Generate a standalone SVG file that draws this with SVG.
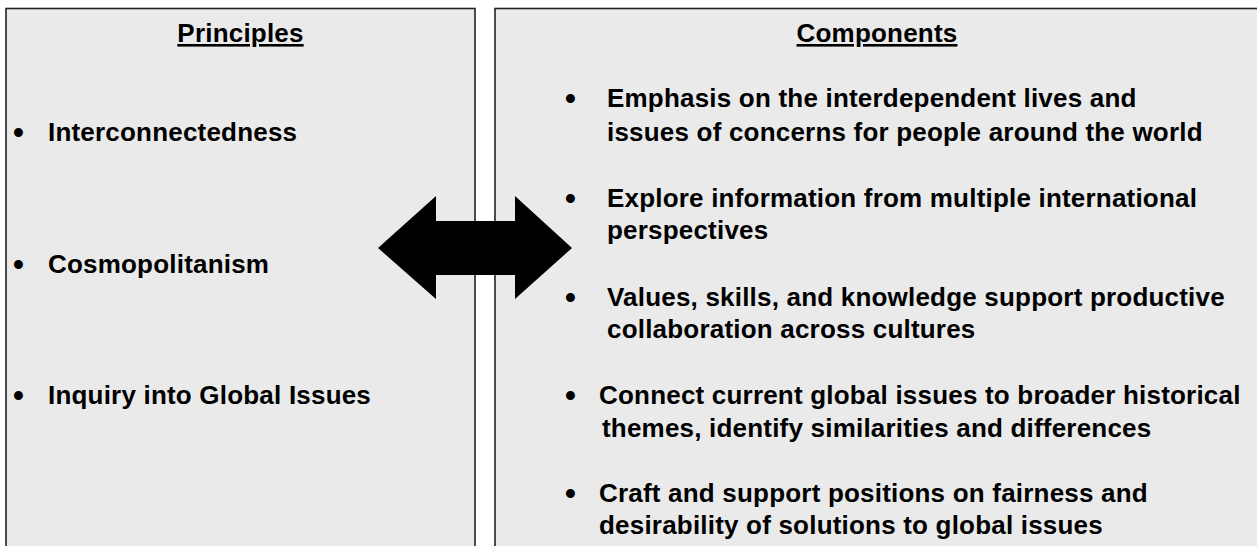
<svg xmlns="http://www.w3.org/2000/svg" width="1257" height="546" viewBox="0 0 1257 546">
<style>
.box{fill:#EAEAEA;stroke:#222;stroke-width:1.6}
.t{font-family:"Liberation Sans",Arial,sans-serif;font-weight:bold;font-size:26px;fill:#000;letter-spacing:0.2px}
.b{font-family:"Liberation Sans",Arial,sans-serif;font-weight:bold;font-size:31px;fill:#000}
.h{text-decoration:underline}
.m{text-anchor:middle}
</style>
<rect width="1257" height="546" fill="#fff"/>
<g id="principles">
<rect class="box" x="6" y="8.5" width="469" height="560"/>
<text class="t h m" x="240.5" y="42">Principles</text>
<text class="b" x="13" y="142.5">•</text><text class="t" x="48" y="141">Interconnectedness</text>
<text class="b" x="13" y="274.5">•</text><text class="t" x="48" y="273">Cosmopolitanism</text>
<text class="b" x="13" y="405.5">•</text><text class="t" x="48" y="404">Inquiry into Global Issues</text>
</g>
<g id="components">
<rect class="box" x="495" y="8.5" width="800" height="560"/>
<text class="t h m" x="877" y="42">Components</text>
<text class="b" x="565" y="108.5">•</text>
<text class="t" x="607" y="107">Emphasis on the interdependent lives and</text>
<text class="t" x="607" y="141">issues of concerns for people around the world</text>
<text class="b" x="565" y="208.5">•</text>
<text class="t" x="607" y="207">Explore information from multiple international</text>
<text class="t" x="607" y="239">perspectives</text>
<text class="b" x="565" y="307.5">•</text>
<text class="t" x="607" y="306">Values, skills, and knowledge support productive</text>
<text class="t" x="607" y="338">collaboration across cultures</text>
<text class="b" x="565" y="405.5">•</text>
<text class="t" x="599" y="404">Connect current global issues to broader historical</text>
<text class="t" x="602" y="437">themes, identify similarities and differences</text>
<text class="b" x="565" y="503.5">•</text>
<text class="t" x="599" y="502">Craft and support positions on fairness and</text>
<text class="t" x="599" y="534">desirability of solutions to global issues</text>
</g>
<g id="connectors">
<polygon points="378,248 436,196 436,221 515,221 515,196 572,248 515,299 515,275 436,275 436,299" fill="#000"/>
</g>
</svg>
